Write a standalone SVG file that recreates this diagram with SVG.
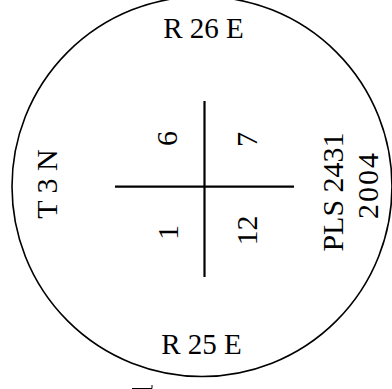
<svg xmlns="http://www.w3.org/2000/svg" width="392" height="389" viewBox="0 0 392 389">
<style>
text{font-family:'Liberation Serif','Times New Roman',serif;font-size:29px;fill:#000;text-anchor:middle}
.r{font-size:30px}
.ln{stroke:#000;fill:none}
</style>
<rect width="392" height="389" fill="#fff"/>
<g id="cap">
<circle class="ln" cx="202" cy="186.5" r="190" stroke-width="1.6"/>
</g>
<g id="cross">
<line class="ln" x1="204.5" y1="101" x2="204.5" y2="277" stroke-width="2.2"/>
<line class="ln" x1="115" y1="186.7" x2="294" y2="186.7" stroke-width="2.2"/>
</g>
<g id="labels">
<text x="203.5" y="37.5">R 26 E</text>
<text x="201.5" y="354">R 25 E</text>
<text class="r" transform="translate(57,184) rotate(-90)">T 3 N</text>
<text class="r" transform="translate(177,138.5) rotate(-90)">6</text>
<text class="r" transform="translate(257,139.5) rotate(-90)">7</text>
<text class="r" transform="translate(178,232.5) rotate(-90)">1</text>
<text class="r" transform="translate(257,230.5) rotate(-90)">12</text>
<text class="r" transform="translate(343,192) rotate(-90)">PLS 2431</text>
<text class="r" transform="translate(378,186) rotate(-90)" textLength="66" lengthAdjust="spacing">2004</text>
</g>
<path class="ln" d="M132 388.5 H152 V385" stroke="#999" stroke-width="1"/>
</svg>
